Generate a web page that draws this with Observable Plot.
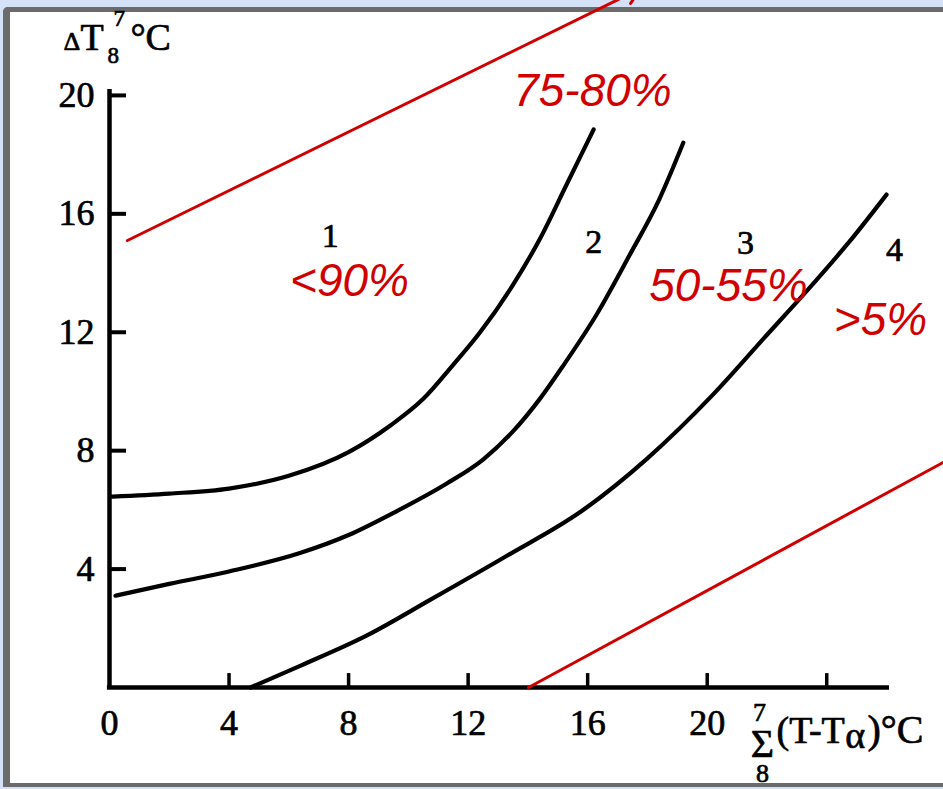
<!DOCTYPE html>
<html><head><meta charset="utf-8">
<script src="https://cdn.jsdelivr.net/npm/d3@7"></script>
<script src="https://cdn.jsdelivr.net/npm/@observablehq/plot@0.6"></script>
<style>
html,body{margin:0;padding:0;width:943px;height:789px;overflow:hidden;background:#d5e1f6;}
#frame{position:absolute;left:3px;top:7px;width:1000px;height:771px;border-left:7px solid #6b6b6b;border-top:5px solid #6b6b6b;border-bottom:4px solid #6b6b6b;border-top-left-radius:5px;background:#fff;}
#chart{position:absolute;left:0;top:0;}
</style></head><body>
<div id="frame"></div><div id="chart"></div>
<script>
// Tick values
const xTicks = [4, 8, 12, 16, 20, 24];
const xTickLabels = [0, 4, 8, 12, 16, 20];
const yTicks = [4, 8, 12, 16, 20];
const yTickLabels = [4, 8, 12, 16, 20];

// Curves (x = Σ(T−Tα) °C, y = ΔT °C)
const curve1 = [[0.1,6.45],[2,6.55],[4,6.72],[6,7.15],[8,7.95],[9.4,8.85],[10.5,9.75],[11.5,10.9],[12.4,12.0],[13.5,13.6],[14.4,15.15],[15.3,17.0],[16.2,18.85]];
const curve2 = [[0.2,3.1],[2,3.5],[4,3.92],[6.4,4.55],[8,5.15],[9.5,5.9],[11.3,6.9],[12.5,7.7],[13.5,8.65],[14.4,9.75],[15.2,10.9],[16.3,12.6],[17.4,14.6],[18.4,16.5],[19.2,18.4]];
const curve3 = [[4.72,0],[6.4,0.74],[8.6,1.75],[10.8,3.0],[13.3,4.45],[15.8,5.96],[18.0,7.74],[20.2,9.9],[21.9,11.8],[23.6,13.7],[24.75,15.05],[26.0,16.65]];

// Red annotation lines
const arrowUpper = [[0.6, 15.1], [17.77, 23.61]];
const lineLower = [[14.02, 0], [28.0, 7.66]];

// Labels
const curveNames = ["1", "2", "3", "4"];
const zoneLabels = ["<90%", "75-80%", "50-55%", ">5%"];

const red = "#d10000";
const serif = "'Liberation Serif', 'Times New Roman', serif";
const sans = "'Liberation Sans', Arial, sans-serif";
const ink = {fill: "#000", stroke: "#000", strokeWidth: 0.7};

const redText = (t, x, y) => Plot.text([t], {x, y, text: d => d, fill: red, fontFamily: sans, fontStyle: "italic", fontSize: 46});
const numText = (t, x, y) => Plot.text([t], {x, y, text: d => d, fontFamily: serif, fontSize: 34, ...ink});
const piece = (t, x, y, size) => Plot.text([t], {x, y, text: d => d, fontFamily: serif, fontSize: size, textAnchor: "start", lineAnchor: "bottom", ...ink});
const stack = (t, x, y, size) => Plot.text([t], {x, y, text: d => d, fontFamily: serif, fontSize: size, lineAnchor: "bottom", ...ink});

const plot = Plot.plot({
  width: 943, height: 789,
  marginLeft: 109, marginRight: 51, marginTop: 89, marginBottom: 102,
  x: {domain: [0, 26.2], axis: null},
  y: {domain: [0, 20.2], axis: null},
  style: {background: "transparent", fontFamily: serif, overflow: "visible"},
  marks: [
    // axis lines
    Plot.ruleX([0], {y1: 0, y2: 20.2, stroke: "#000", strokeWidth: 4.5}),
    Plot.ruleY([0], {x1: -0.07, x2: 26.1, stroke: "#000", strokeWidth: 4.5}),
    // inward ticks
    Plot.ruleY(yTicks, {y: d => d, x1: 0, x2: 0.57, stroke: "#000", strokeWidth: 4}),
    Plot.ruleX(xTicks, {x: d => d, y1: 0, y2: 0.47, stroke: "#000", strokeWidth: 3.5}),
    // tick labels
    Plot.text(xTickLabels, {x: d => d, y: 0, dy: 36, text: d => String(d), fontFamily: serif, fontSize: 36, ...ink}),
    Plot.text(yTickLabels, {x: 0, y: d => d, dx: -15, text: d => String(d), textAnchor: "end", fontFamily: serif, fontSize: 36, ...ink}),
    // curves
    Plot.line(curve1, {x: d => d[0], y: d => d[1], curve: "monotone-x", stroke: "#000", strokeWidth: 4.2}),
    Plot.line(curve2, {x: d => d[0], y: d => d[1], curve: "monotone-x", stroke: "#000", strokeWidth: 4.2}),
    Plot.line(curve3, {x: d => d[0], y: d => d[1], curve: "monotone-x", stroke: "#000", strokeWidth: 4.2}),
    // curve numbers
    numText(curveNames[0], 7.39, 15.25),
    numText(curveNames[1], 16.2, 15.03),
    numText(curveNames[2], 21.28, 15.0),
    numText(curveNames[3], 26.27, 14.76),
    // red lines
    Plot.arrow([arrowUpper], {x1: d => d[0][0], y1: d => d[0][1], x2: d => d[1][0], y2: d => d[1][1], bend: 0, stroke: red, strokeWidth: 3, headLength: 9}),
    Plot.line(lineLower, {x: d => d[0], y: d => d[1], stroke: red, strokeWidth: 3}),
    // red zone labels
    redText(zoneLabels[0], 8.03, 13.72),
    redText(zoneLabels[1], 16.16, 20.14),
    redText(zoneLabels[2], 20.71, 13.56),
    redText(zoneLabels[3], 25.8, 12.42),
    // y axis title  ΔT 8/7 °C
    piece("Δ", -1.54, 21.52, 26),
    piece("T", -0.97, 21.52, 38),
    piece("8", -0.07, 21.11, 23),
    piece("7", 0.13, 22.33, 23),
    piece("°C", 0.70, 21.52, 38),
    // x axis title  Σ(8..7)(T−Tα)°C
    stack("7", 21.75, -1.12, 26),
    stack("Σ", 21.85, -2.36, 40),
    stack("8", 21.85, -3.2, 26),
    piece("(T-T", 22.32, -1.89, 38),
    piece("α", 24.62, -2.03, 38),
    piece(")°C", 25.36, -1.89, 40)
  ]
});
document.getElementById("chart").appendChild(plot);
</script></body></html>
